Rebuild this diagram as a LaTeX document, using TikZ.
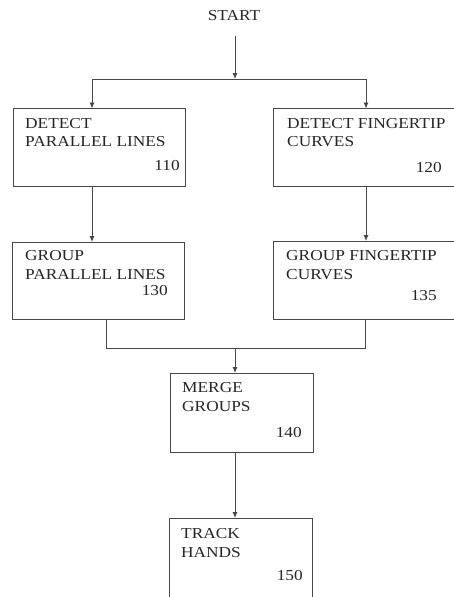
\documentclass[tikz,border=0pt]{standalone}
\usepackage{fontspec}
\setmainfont[FakeStretch=1.14]{Liberation Serif}
\usetikzlibrary{arrows.meta}
\begin{document}
\begin{tikzpicture}[x=1pt,y=-1pt,
  line/.style={draw=black!72, line width=0.9pt},
  arr/.style={line, -{Latex[length=6pt,width=5pt]}},
  box/.style={line, rectangle, inner sep=0pt, outer sep=0pt},
  txt/.style={anchor=north west, inner sep=0pt, align=left, text=black!85,
     font=\fontsize{15.2}{18.5}\selectfont},
  num/.style={anchor=base east, inner sep=0pt, text=black!85,
     font=\fontsize{15.2}{18.5}\selectfont}]
\clip (0,0) rectangle (454,597);
\fill[white] (0,0) rectangle (454,597);
% START
\node[anchor=base, inner sep=0pt, text=black!85, font=\fontsize{15.2}{18}\selectfont] (start) at (234,20) {START};
\coordinate (j0) at (235,79);
\coordinate (jl) at (92,79);
\coordinate (jr) at (366,79);
% boxes
\node[box, minimum width=172pt, minimum height=78pt] (b110) at (99,147.5) {};
\node[box, minimum width=186pt, minimum height=78pt] (b120) at (366,147.5) {};
\node[box, minimum width=172pt, minimum height=77pt] (b130) at (98,280.5) {};
\node[box, minimum width=186pt, minimum height=78pt] (b135) at (366,280) {};
\node[box, minimum width=143pt, minimum height=79pt] (b140) at (241.5,412.5) {};
\node[box, minimum width=143pt, minimum height=90pt] (b150) at (240.5,563) {};
% texts
\node[txt] (t110) at ([shift={(12,9.5)}]b110.north west) {DETECT\\PARALLEL LINES};
\node[txt] (t120) at ([shift={(14,9.5)}]b120.north west) {DETECT FINGERTIP\\CURVES};
\node[txt] (t130) at ([shift={(13,8.5)}]b130.north west) {GROUP\\PARALLEL LINES};
\node[txt] (t135) at ([shift={(13,9.5)}]b135.north west) {GROUP FINGERTIP\\CURVES};
\node[txt] (t140) at ([shift={(12,9.5)}]b140.north west) {MERGE\\GROUPS};
\node[txt] (t150) at ([shift={(12,10.5)}]b150.north west) {TRACK\\HANDS};
% numbers
\node[num] (n110) at (180,170) {110};
\node[num] (n120) at (442,172) {120};
\node[num] (n130) at (168,295) {130};
\node[num] (n135) at (437,300) {135};
\node[num] (n140) at (302,437) {140};
\node[num] (n150) at (303,580) {150};
% connectors
\draw[arr, shorten <=16pt] (start.south -| j0) -- (j0);
\draw[line] (jl) -- (jr);
\draw[arr] (jl) -- (jl |- b110.north);
\draw[arr] (jr) -- (jr |- b120.north);
\draw[arr] (jl |- b110.south) -- (jl |- b130.north);
\draw[arr] (jr |- b120.south) -- (jr |- b135.north);
\coordinate (m1) at (106,348);
\coordinate (m2) at (365,348);
\coordinate (m0) at (235,348);
\draw[line] (m1 |- b130.south) -- (m1) -- (m2) -- (m2 |- b135.south);
\draw[arr] (m0) -- (m0 |- b140.north);
\draw[arr] (b140.south -| m0) -- (b150.north -| m0);
\end{tikzpicture}
\end{document}
